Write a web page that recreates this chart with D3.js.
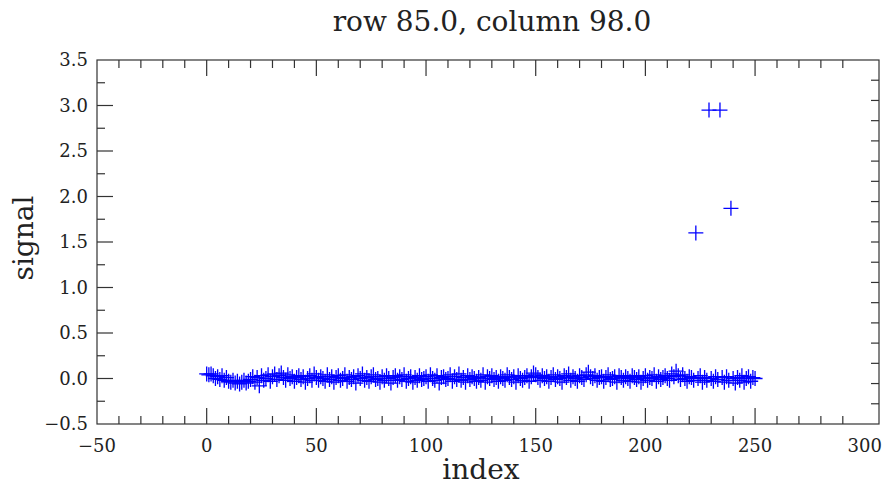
<!DOCTYPE html>
<html>
<head>
<meta charset="utf-8">
<script src="https://cdn.jsdelivr.net/npm/d3@7"></script>
<style>
  body { margin: 0; background: #fff; }
  text { font-family: "DejaVu Serif", serif; fill: #222; }
</style>
</head>
<body>
<div id="chart"></div>
<script>
// Signal values, one per index 0..250
const signal = [
  0.05, 0.04, 0.05, 0.03, 0.00, 0.02, -0.01, 0.03, -0.02, 0.01,
  -0.03, -0.04, -0.02, -0.05, -0.03, -0.06, -0.04, -0.02, -0.05, -0.03,
  -0.01, 0.02, -0.04, 0.01, -0.08, 0.03, -0.02, 0.00, 0.04, -0.03,
  0.02, 0.05, -0.01, 0.03, 0.06, 0.01, -0.02, 0.04, 0.00, 0.02,
  -0.03, 0.01, 0.03, -0.01, 0.02, -0.04, 0.00, 0.03, -0.02, 0.05,
  0.01, -0.02, 0.02, 0.00, -0.03, 0.04, -0.01, 0.02, -0.04, 0.01,
  0.03, -0.02, 0.00, 0.04, -0.03, 0.01, -0.01, 0.02, -0.05, 0.03,
  0.00, 0.05, -0.02, 0.01, -0.03, 0.02, 0.04, -0.01, 0.00, -0.04,
  0.02, -0.02, 0.03, 0.00, -0.05, 0.01, 0.03, -0.02, 0.02, -0.01,
  0.04, -0.03, 0.00, 0.02, -0.04, 0.01, -0.02, 0.03, -0.01, 0.00,
  0.02, -0.03, 0.04, 0.00, -0.02, 0.03, -0.05, 0.01, 0.02, -0.01,
  0.00, 0.04, -0.03, 0.02, -0.01, 0.05, -0.02, 0.01, -0.04, 0.03,
  -0.01, 0.02, 0.00, -0.03, 0.01, -0.02, 0.04, -0.04, 0.02, 0.00,
  0.03, -0.01, 0.01, -0.03, 0.02, 0.00, -0.02, 0.04, 0.01, -0.01,
  0.02, -0.04, 0.03, 0.00, -0.02, 0.01, 0.03, -0.03, 0.02, 0.06,
  0.04, 0.01, -0.02, 0.03, 0.00, 0.02, -0.03, 0.01, 0.04, -0.01,
  0.02, 0.00, -0.04, 0.03, 0.01, 0.05, -0.02, 0.02, 0.00, -0.03,
  0.03, 0.01, -0.01, 0.04, 0.07, 0.02, 0.00, 0.03, -0.02, 0.01,
  0.02, -0.03, 0.01, 0.04, -0.01, 0.00, 0.02, -0.04, 0.03, 0.01,
  -0.02, 0.02, 0.00, -0.03, 0.03, 0.01, -0.01, 0.02, -0.04, 0.00,
  0.03, -0.02, 0.01, 0.00, 0.04, -0.03, 0.02, -0.01, 0.01, 0.03,
  0.00, -0.02, 0.05, 0.02, 0.08, 0.03, -0.01, 0.04, 0.00, -0.03,
  0.02, 0.01, -0.02, 1.60, 0.00, 0.03, -0.04, 0.01, -0.02, 2.95,
  0.00, -0.03, 0.02, -0.01, 2.95, 0.01, -0.04, 0.02, -0.02, 1.87,
  0.00, -0.05, 0.01, -0.02, 0.03, -0.04, 0.00, 0.02, -0.03, 0.01, 0.00
];
const xTicks = [-50, 0, 50, 100, 150, 200, 250, 300];
const xMinor = [-40, -30, -20, -10, 10, 20, 30, 40, 60, 70, 80, 90, 110, 120, 130, 140,
  160, 170, 180, 190, 210, 220, 230, 240, 260, 270, 280, 290];
const yTicks = [-0.5, 0.0, 0.5, 1.0, 1.5, 2.0, 2.5, 3.0, 3.5];
const yMinor = [-0.25, 0.25, 0.75, 1.25, 1.75, 2.25, 2.75, 3.25];

const W = 883, H = 488;
const plot = { left: 97, right: 879, top: 60, bottom: 424 };
const axisColor = "#333";

const svg = d3.select("#chart").append("svg")
  .attr("width", W).attr("height", H);

const x = d3.scaleLinear().domain([-50, 306.5]).range([plot.left, plot.right]);
const y = d3.scaleLinear().domain([-0.5, 3.5]).range([plot.bottom, plot.top]);
// right-hand axis is split into 18 equal steps in the original
const yRight = d3.scaleLinear().domain([0, 18]).range([plot.bottom, plot.top]);

// frame
svg.append("rect")
  .attr("x", plot.left).attr("y", plot.top)
  .attr("width", plot.right - plot.left).attr("height", plot.bottom - plot.top)
  .attr("fill", "none").attr("stroke", axisColor).attr("stroke-width", 1.2);

const tickG = svg.append("g").attr("stroke", axisColor).attr("stroke-width", 1.2);
const majorX = xTicks.filter(d => d < 300 && d > -50);

// bottom and top ticks
[[plot.bottom, -1], [plot.top, 1]].forEach(([y0, dir]) => {
  tickG.selectAll(null).data(majorX).enter().append("line")
    .attr("x1", d => x(d)).attr("x2", d => x(d))
    .attr("y1", y0).attr("y2", y0 + dir * 16);
  tickG.selectAll(null).data(xMinor).enter().append("line")
    .attr("x1", d => x(d)).attr("x2", d => x(d))
    .attr("y1", y0).attr("y2", y0 + dir * 8);
});

// left ticks
tickG.selectAll(null).data(yTicks.slice(1, -1)).enter().append("line")
  .attr("x1", plot.left).attr("x2", plot.left + 16)
  .attr("y1", d => y(d)).attr("y2", d => y(d));
tickG.selectAll(null).data(yMinor).enter().append("line")
  .attr("x1", plot.left).attr("x2", plot.left + 8)
  .attr("y1", d => y(d)).attr("y2", d => y(d));

// right ticks
tickG.selectAll(null).data(d3.range(1, 18)).enter().append("line")
  .attr("x1", plot.right).attr("x2", plot.right - 8)
  .attr("y1", d => yRight(d)).attr("y2", d => yRight(d));

// tick labels
svg.append("g").selectAll("text").data(xTicks).enter().append("text")
  .attr("x", d => x(d)).attr("y", 452)
  .attr("text-anchor", "middle").attr("font-size", 18)
  .text(d => d3.format("")(d).replace("-", "\u2212"));

svg.append("g").selectAll("text").data(yTicks).enter().append("text")
  .attr("x", 88).attr("y", d => y(d) + 6)
  .attr("text-anchor", "end").attr("font-size", 18)
  .text(d => d3.format(".1f")(d).replace("-", "\u2212"));

// titles
svg.append("text")
  .attr("x", 492).attr("y", 31)
  .attr("text-anchor", "middle").attr("font-size", 28)
  .text("row 85.0, column 98.0");

svg.append("text")
  .attr("x", 481).attr("y", 479)
  .attr("text-anchor", "middle").attr("font-size", 28)
  .text("index");

svg.append("text")
  .attr("transform", `translate(33, 238) rotate(-90)`)
  .attr("text-anchor", "middle").attr("font-size", 28)
  .text("signal");

// plus markers
const half = 7.5;
svg.append("g")
  .attr("stroke", "#0000ff").attr("stroke-width", 1.3).attr("fill", "none")
  .selectAll("path").data(signal).enter().append("path")
  .attr("d", (d, i) => {
    const cx = x(i), cy = y(d);
    return `M${cx - half},${cy}H${cx + half}M${cx},${cy - half}V${cy + half}`;
  });
</script>
</body>
</html>
